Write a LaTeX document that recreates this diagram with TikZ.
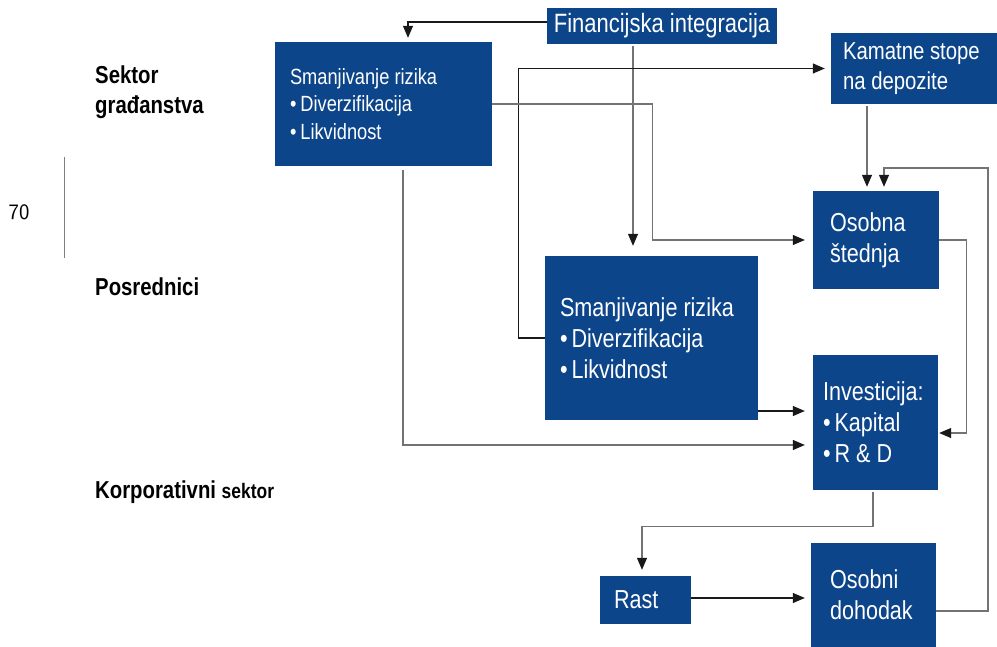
\documentclass[tikz,border=0pt]{standalone}
\usepackage{fontspec}
\setmainfont[FakeStretch=0.83]{Liberation Sans}
\usetikzlibrary{arrows.meta}
\definecolor{boxblue}{RGB}{13,69,138}
\newcommand{\bul}{\raisebox{0pt}{•}\kern4pt}
\begin{document}
\begin{tikzpicture}[x=1pt,y=-1pt,
  box/.style={fill=boxblue, inner sep=0pt, text=white},
  txt/.style={text=white, align=left, inner sep=0pt, anchor=west, font=\fontsize{26}{31}\selectfont},
  lab/.style={align=left, inner sep=0pt, anchor=west, font=\bfseries\fontsize{24.5}{30}\selectfont},
  conn/.style={line width=1.2pt, draw=black!90, -{Triangle[length=12pt,width=10pt,color=black!90]}},
  gconn/.style={conn, draw=black!55}
]
\useasboundingbox (0,0) rectangle (997,647);

% boxes
\node[box, minimum width=230pt, minimum height=36pt, font=\fontsize{26.5}{31}\selectfont] (fin) at (662,26) {Financijska integracija};
\node[box, minimum width=217pt, minimum height=124pt] (tl) at (383.5,104) {};
\node[box, minimum width=166pt, minimum height=71pt] (kam) at (914,68.5) {};
\node[box, minimum width=126pt, minimum height=98pt] (os) at (876,240) {};
\node[box, minimum width=213pt, minimum height=164pt] (mid) at (651.5,338) {};
\node[box, minimum width=125pt, minimum height=135pt] (inv) at (875.5,422.5) {};
\node[box, minimum width=91pt, minimum height=48pt] (rast) at (645.5,600) {};
\node[box, minimum width=125pt, minimum height=104pt] (od) at (873.5,595) {};

% box texts
\node[txt, font=\fontsize{22}{27.5}\selectfont] (tlt) at ([xshift=15pt]tl.west) {Smanjivanje rizika\\\bul Diverzifikacija\\\bul Likvidnost};
\node[txt] (midt) at ([xshift=15pt]mid.west) {Smanjivanje rizika\\\bul Diverzifikacija\\\bul Likvidnost};
\node[txt, font=\fontsize{24.5}{30}\selectfont] (kamt) at ([xshift=12pt]kam.west) {Kamatne stope\\na depozite};
\node[txt] (ost) at ([xshift=17pt]os.west) {Osobna\\štednja};
\node[txt] (invt) at ([xshift=10pt]inv.west) {Investicija:\\\bul Kapital\\\bul R \& D};
\node[txt] (rastt) at ([xshift=14pt]rast.west) {Rast};
\node[txt] (odt) at ([xshift=19pt]od.west) {Osobni\\dohodak};

% left labels
\node[lab] (l1) at (95,92) {Sektor\\građanstva};
\node[lab] (l2) at (95,287) {Posrednici};
\node[lab] (l3) at (95,492) {Korporativni {\fontsize{21}{30}\selectfont sektor}};
\node[font=\sffamily\fontsize{22}{22}\selectfont, inner sep=0pt] (pg) at (19,212) {70};
\draw[black!50, line width=1pt] (64,157) -- (64,258);

% connectors
\draw[conn, shorten >=4pt] ([yshift=4pt]fin.west) -| ([xshift=24.5pt]tl.north);
\draw[gconn, shorten <=2pt, shorten >=10pt] ([xshift=-29pt]fin.south) -- ([xshift=-18.5pt]mid.north);
\draw[conn, shorten >=6pt] (mid.west) -- ++(-26,0) |- (kam.west);
\draw[gconn, shorten >=8pt] (tl.east) -- ++(160,0) |- (os.west);
\draw[gconn, shorten <=2pt, shorten >=4pt] ([xshift=-47pt]kam.south) -- ([xshift=-9pt]os.north);
\coordinate (c6) at (988,168);
\draw[gconn, shorten >=4pt] ([yshift=-16pt]od.east) -| (c6) -| ([xshift=8pt]os.north);
\draw[gconn, shorten >=1pt] (os.east) -- ++(27,0) |- ([yshift=-10.5pt]inv.east);
\draw[conn, shorten >=8pt] ([yshift=-73pt]mid.east) -- ([yshift=11.5pt]inv.west);
\draw[gconn, shorten <=4pt, shorten >=8pt] ([xshift=19.5pt]tl.south) |- ([yshift=-22.5pt]inv.west);
\draw[gconn, shorten <=2pt, shorten >=6pt] ([xshift=-2.5pt]inv.south) -- ++(0,36) -| ([xshift=-3.5pt]rast.north);
\draw[conn, shorten >=6pt] ([yshift=2pt]rast.east) -- ([yshift=2pt]rast.east -| od.west);
\end{tikzpicture}
\end{document}
